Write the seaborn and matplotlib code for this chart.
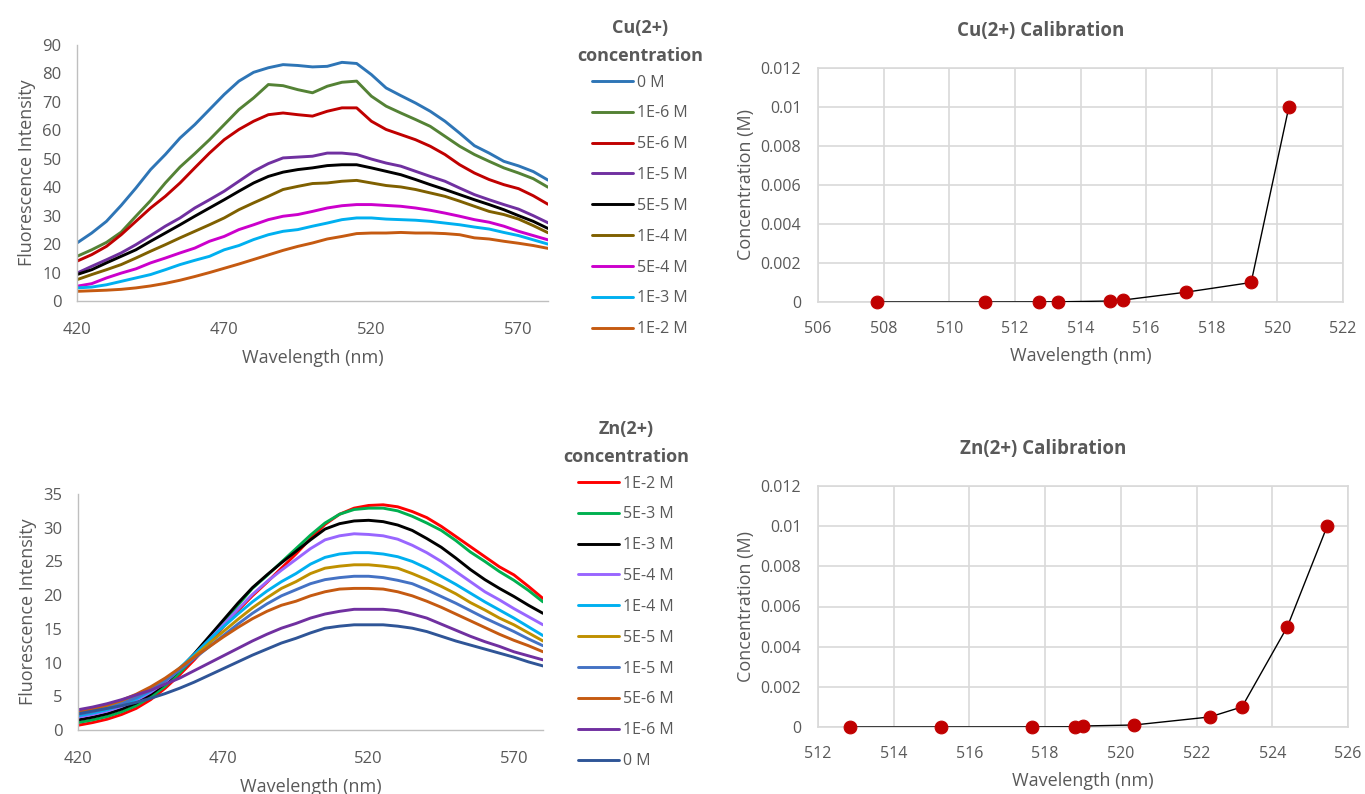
import numpy as np
import pandas as pd
import matplotlib
matplotlib.use("Agg")
import matplotlib.pyplot as plt
from matplotlib.ticker import FuncFormatter, MultipleLocator
import seaborn as sns

# ---------------- data ----------------
wavelength = list(range(420, 581, 5))

cu_labels = ["0 M", "1E-6 M", "5E-6 M", "1E-5 M", "5E-5 M", "1E-4 M", "5E-4 M", "1E-3 M", "1E-2 M"]
cu_colors = ["#2E75B6", "#548235", "#C00000", "#7030A0", "#000000", "#7F6000", "#CC00CC", "#00B0F0", "#C55A11"]
cu_0M   = [20.4, 23.9, 28.0, 33.6, 39.7, 46.2, 51.5, 57.3, 62.0, 67.3, 72.6, 77.3, 80.4, 82.0, 83.1, 82.8, 82.3, 82.5, 83.9, 83.5, 79.6, 74.9, 72.2, 69.6, 66.7, 63.2, 59.0, 54.6, 52.0, 49.1, 47.5, 45.5, 42.5]
cu_1e6  = [15.7, 18.0, 20.6, 24.2, 29.8, 35.3, 41.5, 47.1, 51.8, 56.7, 62.0, 67.3, 71.4, 76.1, 75.7, 74.3, 73.2, 75.5, 76.9, 77.3, 72.0, 68.5, 66.1, 63.8, 61.4, 57.9, 54.4, 51.5, 49.1, 46.8, 45.0, 43.0, 40.0]
cu_5e6  = [14.0, 16.3, 19.2, 23.3, 28.0, 32.7, 36.8, 41.5, 46.8, 52.0, 56.7, 60.3, 63.2, 65.5, 66.1, 65.5, 65.0, 66.7, 67.9, 67.9, 63.2, 60.3, 58.5, 56.7, 54.4, 51.5, 47.9, 45.0, 42.7, 40.9, 39.5, 37.0, 34.0]
cu_1e5  = [9.8, 12.2, 14.5, 16.9, 19.8, 23.0, 26.3, 29.2, 32.7, 35.6, 38.6, 42.1, 45.6, 48.3, 50.3, 50.6, 50.9, 52.0, 52.0, 51.5, 49.9, 48.5, 47.4, 45.6, 43.8, 42.1, 39.7, 37.4, 35.6, 33.9, 32.3, 30.0, 27.5]
cu_5e5  = [9.3, 11.0, 13.4, 15.7, 18.0, 21.0, 23.9, 26.8, 29.8, 32.7, 35.6, 38.6, 41.5, 43.8, 45.3, 46.2, 46.8, 47.6, 47.9, 47.9, 46.8, 45.6, 44.4, 42.7, 40.9, 39.2, 37.4, 35.6, 33.9, 32.1, 30.0, 28.0, 25.5]
cu_1e4  = [7.5, 9.3, 11.0, 12.8, 15.1, 17.5, 19.8, 22.2, 24.5, 26.8, 29.2, 32.1, 34.5, 36.8, 39.2, 40.3, 41.3, 41.5, 42.1, 42.4, 41.5, 40.6, 40.1, 39.2, 38.0, 36.8, 35.1, 33.3, 31.5, 30.4, 28.8, 26.5, 24.0]
cu_5e4  = [5.2, 6.1, 8.1, 9.8, 11.3, 13.4, 15.1, 16.9, 18.6, 21.0, 22.7, 25.1, 26.8, 28.6, 29.8, 30.4, 31.5, 32.7, 33.5, 33.9, 33.9, 33.6, 33.3, 32.7, 31.9, 30.9, 29.8, 28.6, 27.7, 26.3, 24.5, 23.0, 21.5]
cu_1e3  = [4.6, 4.9, 5.7, 6.9, 8.1, 9.3, 11.0, 12.8, 14.3, 15.7, 18.0, 19.5, 21.6, 23.3, 24.5, 25.1, 26.3, 27.4, 28.6, 29.2, 29.2, 28.8, 28.6, 28.4, 28.0, 27.4, 26.8, 26.0, 25.3, 24.1, 23.0, 21.5, 20.0]
cu_1e2  = [3.4, 3.6, 3.8, 4.1, 4.6, 5.3, 6.2, 7.3, 8.6, 10.0, 11.5, 13.0, 14.6, 16.2, 17.8, 19.2, 20.4, 21.8, 22.7, 23.7, 23.9, 23.9, 24.1, 23.9, 23.9, 23.7, 23.3, 22.2, 21.8, 21.0, 20.3, 19.5, 18.5]
cu_series = [cu_0M, cu_1e6, cu_5e6, cu_1e5, cu_5e5, cu_1e4, cu_5e4, cu_1e3, cu_1e2]

zn_labels = ["1E-2 M", "5E-3 M", "1E-3 M", "5E-4 M", "1E-4 M", "5E-5 M", "1E-5 M", "5E-6 M", "1E-6 M", "0 M"]
zn_colors = ["#FF0000", "#00B050", "#000000", "#9966FF", "#00B0F0", "#BF9000", "#4472C4", "#C55A11", "#7030A0", "#2F5597"]
zn_1e2 = [0.7, 1.1, 1.6, 2.3, 3.2, 4.5, 6.2, 8.2, 10.4, 12.8, 15.3, 17.7, 19.9, 21.9, 24.0, 26.1, 28.4, 30.5, 32.0, 32.9, 33.3, 33.4, 33.1, 32.4, 31.5, 30.2, 28.7, 27.2, 25.7, 24.2, 23.0, 21.3, 19.5]
zn_5e3 = [1.1, 1.5, 2.0, 2.7, 3.6, 4.9, 6.5, 8.5, 10.8, 13.3, 15.9, 18.5, 21.0, 22.9, 24.9, 26.9, 28.9, 30.7, 32.0, 32.7, 32.9, 32.9, 32.5, 31.7, 30.7, 29.6, 28.1, 26.4, 25.0, 23.5, 22.2, 20.7, 19.0]
zn_1e3 = [1.5, 1.9, 2.4, 3.1, 4.0, 5.3, 6.9, 9.0, 11.3, 13.8, 16.3, 18.8, 21.1, 23.0, 24.8, 26.5, 28.2, 29.8, 30.6, 31.0, 31.1, 30.9, 30.4, 29.6, 28.4, 27.1, 25.5, 23.8, 22.3, 21.0, 19.8, 18.5, 17.3]
zn_5e4 = [1.9, 2.3, 2.8, 3.5, 4.4, 5.6, 7.1, 9.0, 11.1, 13.3, 15.6, 17.9, 20.1, 22.0, 23.7, 25.3, 26.9, 28.2, 28.8, 29.1, 29.0, 28.8, 28.3, 27.4, 26.3, 25.0, 23.5, 22.0, 20.5, 19.3, 18.0, 16.8, 15.6]
zn_1e4 = [2.1, 2.5, 3.0, 3.7, 4.6, 5.8, 7.3, 9.2, 11.2, 13.3, 15.3, 17.2, 19.0, 20.6, 22.0, 23.2, 24.6, 25.6, 26.1, 26.3, 26.3, 26.1, 25.7, 25.0, 24.0, 22.8, 21.6, 20.3, 19.0, 17.8, 16.6, 15.3, 14.0]
zn_5e5 = [2.5, 2.9, 3.4, 4.1, 5.0, 6.1, 7.5, 9.1, 10.9, 12.8, 14.6, 16.4, 18.1, 19.6, 21.0, 22.0, 23.2, 24.0, 24.3, 24.5, 24.5, 24.3, 24.0, 23.2, 22.3, 21.3, 20.2, 18.9, 17.8, 16.6, 15.6, 14.4, 13.2]
zn_1e5 = [2.3, 2.7, 3.2, 3.9, 4.8, 5.9, 7.3, 8.9, 10.6, 12.3, 14.0, 15.7, 17.3, 18.7, 19.9, 20.8, 21.7, 22.3, 22.6, 22.8, 22.8, 22.6, 22.2, 21.7, 20.8, 19.8, 18.8, 17.7, 16.6, 15.6, 14.6, 13.5, 12.5]
zn_5e6 = [2.7, 3.1, 3.7, 4.4, 5.3, 6.4, 7.7, 9.2, 10.8, 12.3, 13.8, 15.2, 16.5, 17.6, 18.5, 19.1, 19.9, 20.5, 20.9, 21.0, 21.0, 20.9, 20.5, 19.9, 19.1, 18.2, 17.2, 16.2, 15.2, 14.2, 13.3, 12.5, 11.6]
zn_1e6 = [3.0, 3.4, 3.9, 4.5, 5.2, 5.9, 6.8, 7.7, 8.8, 9.9, 11.0, 12.1, 13.2, 14.2, 15.1, 15.8, 16.6, 17.2, 17.6, 17.9, 17.9, 17.9, 17.7, 17.2, 16.6, 15.7, 14.8, 13.9, 13.1, 12.4, 11.6, 11.0, 10.4]
zn_0M  = [2.4, 2.8, 3.2, 3.6, 4.1, 4.7, 5.4, 6.2, 7.1, 8.1, 9.1, 10.1, 11.1, 12.0, 12.9, 13.6, 14.4, 15.1, 15.4, 15.6, 15.6, 15.6, 15.4, 15.1, 14.6, 13.9, 13.2, 12.6, 12.0, 11.4, 10.8, 10.1, 9.5]
zn_series = [zn_1e2, zn_5e3, zn_1e3, zn_5e4, zn_1e4, zn_5e5, zn_1e5, zn_5e6, zn_1e6, zn_0M]

cu_cal_wl   = [507.8, 511.1, 512.75, 513.3, 514.9, 515.3, 517.2, 519.2, 520.35]
cu_cal_conc = [0, 1e-6, 5e-6, 1e-5, 5e-5, 1e-4, 5e-4, 1e-3, 1e-2]
zn_cal_wl   = [512.85, 515.25, 517.65, 518.8, 519.0, 520.35, 522.35, 523.2, 524.4, 525.45]
zn_cal_conc = [0, 1e-6, 5e-6, 1e-5, 5e-5, 1e-4, 5e-4, 1e-3, 5e-3, 1e-2]

# ---------------- style ----------------
sns.set_style("white")
plt.rcParams['font.family'] = ['Open Sans', 'DejaVu Sans']
TXT = "#595959"
AX = "#BFBFBF"
GRID = "#D9D9D9"

W, H = 1365, 794
fig = plt.figure(figsize=(W / 100, H / 100), dpi=100)

def add_ax(left, top, right, bottom):
    return fig.add_axes([left / W, 1 - bottom / H, (right - left) / W, (bottom - top) / H])

def spectra(ax, labels, colors, series, ymax, ystep):
    for lab, col, vals in zip(labels, colors, series):
        df = pd.DataFrame({"wl": wavelength, "I": vals})
        sns.lineplot(data=df, x="wl", y="I", ax=ax, color=col, lw=2.1, label=lab, legend=False)
    ax.set_xlim(420, 580)
    ax.set_ylim(0, ymax)
    ax.set_xticks([420, 470, 520, 570])
    ax.yaxis.set_major_locator(MultipleLocator(ystep))
    for s in ["top", "right"]:
        ax.spines[s].set_visible(False)
    for s in ["left", "bottom"]:
        ax.spines[s].set_color(AX)
        ax.spines[s].set_linewidth(1.0)
    ax.tick_params(axis="both", direction="out", length=5, width=1, color=AX,
                   labelcolor=TXT, labelsize=12)
    ax.tick_params(axis="x", pad=10)
    ax.tick_params(axis="y", pad=6)
    ax.set_xlabel("Wavelength (nm)", color=TXT, fontsize=13, labelpad=8)
    ax.set_ylabel("Fluorescence Intensity", color=TXT, fontsize=13, labelpad=5)

def calib(ax, x, y, xlo, xhi, title):
    sns.lineplot(x=x, y=y, ax=ax, color="black", lw=1.0, zorder=3)
    sns.scatterplot(x=x, y=y, ax=ax, color="#C00000", s=85, edgecolor="#C00000", zorder=4, clip_on=False)
    ax.set_xlim(xlo, xhi)
    ax.set_ylim(0, 0.012)
    ax.xaxis.set_major_locator(MultipleLocator(2))
    ax.set_yticks([0, 0.002, 0.004, 0.006, 0.008, 0.01, 0.012])
    ax.yaxis.set_major_formatter(FuncFormatter(lambda v, p: "{:g}".format(round(v, 4))))
    ax.grid(True, color=GRID, lw=1.2)
    ax.set_axisbelow(True)
    for s in ax.spines.values():
        s.set_color(GRID)
        s.set_linewidth(1.2)
    ax.tick_params(axis="both", length=0, labelcolor=TXT, labelsize=11.5)
    ax.tick_params(axis="x", pad=14)
    ax.tick_params(axis="y", pad=12)
    ax.set_xlabel("Wavelength (nm)", color=TXT, fontsize=13, labelpad=7)
    ax.set_ylabel("Concentration (M)", color=TXT, fontsize=13, labelpad=4)
    ax.set_title(title, color=TXT, fontsize=13.5, fontweight="bold", pad=23, x=0.425)

def style_legend(leg):
    t = leg.get_title()
    t.set_fontweight("bold")
    t.set_fontsize(13)
    t.set_color(TXT)
    t.set_multialignment("center")
    t.set_linespacing(1.7)
    for tx in leg.get_texts():
        tx.set_color(TXT)
    leg._legend_box.sep = 7.0

# top-left spectra
ax1 = add_ax(77, 45, 548, 301)
spectra(ax1, cu_labels, cu_colors, cu_series, 90, 10)
leg1 = fig.legend(handles=ax1.get_lines(), labels=cu_labels, loc="upper center",
                  bbox_to_anchor=(640 / W, 1 - 11 / H), frameon=False, fontsize=11.5,
                  title="Cu(2+)\nconcentration", handlelength=2.55, handletextpad=0.3,
                  labelspacing=0.93, borderpad=0)
style_legend(leg1)

# bottom-left spectra
ax3 = add_ax(78, 494, 543, 730)
spectra(ax3, zn_labels, zn_colors, zn_series, 35, 5)
leg3 = fig.legend(handles=ax3.get_lines(), labels=zn_labels, loc="upper center",
                  bbox_to_anchor=(626 / W, 1 - 412 / H), frameon=False, fontsize=11.5,
                  title="Zn(2+)\nconcentration", handlelength=2.55, handletextpad=0.3,
                  labelspacing=0.93, borderpad=0)
style_legend(leg3)

# calibration charts
ax2 = add_ax(818, 68, 1343, 302)
calib(ax2, cu_cal_wl, cu_cal_conc, 506, 522, "Cu(2+) Calibration")
ax4 = add_ax(818, 486, 1348, 727)
calib(ax4, zn_cal_wl, zn_cal_conc, 512, 526, "Zn(2+) Calibration")

fig.savefig("out.png", dpi=100)
